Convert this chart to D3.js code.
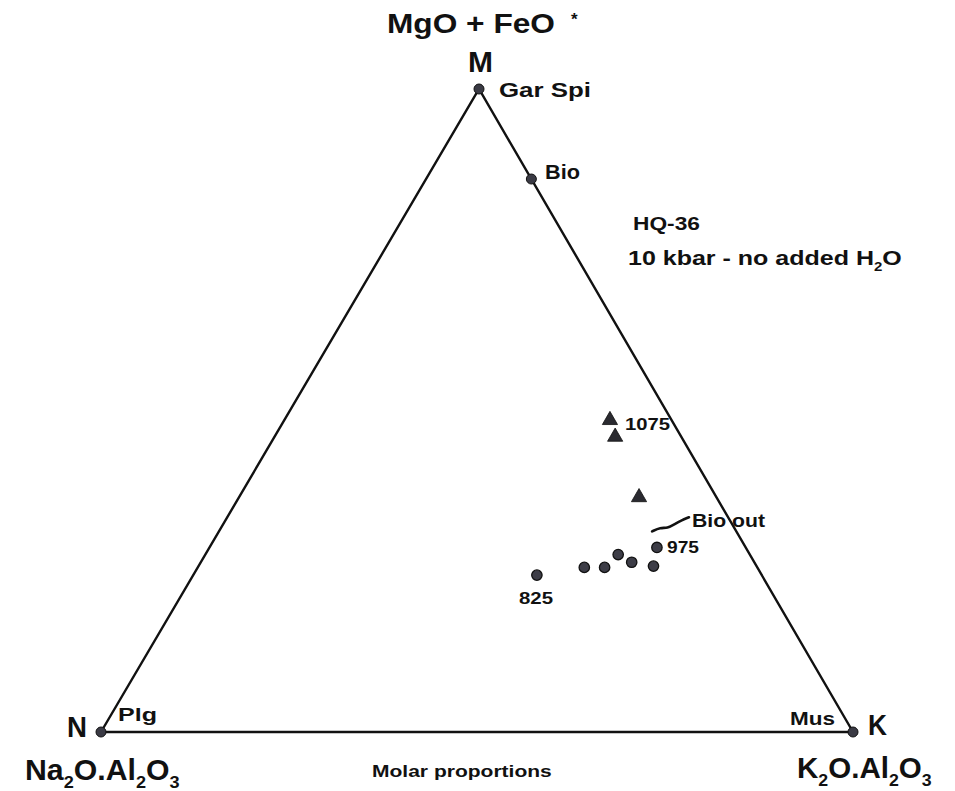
<!DOCTYPE html>
<html><head><meta charset="utf-8">
<script src="https://cdn.jsdelivr.net/npm/d3@7"></script>
<style>html,body{margin:0;padding:0;background:#fff}svg{display:block}text{font-family:"Liberation Sans",Arial,sans-serif;font-weight:bold;fill:#111}</style>
</head><body>
<script>
// Ternary fractions: m = MgO+FeO*, k = K2O.Al2O3, n = 1 - m - k (Na2O.Al2O3)
const phaseNames = ["Gar Spi", "Bio", "Plg", "Mus"];
const phaseM = [1.0, 0.86, 0.0, 0.0];
const phaseK = [0.0, 0.14, 0.0, 1.0];
// melt compositions (circles), 825 ... 975 °C
const meltM = [0.244, 0.256, 0.256, 0.276, 0.264, 0.258, 0.287];
const meltK = [0.457, 0.514, 0.541, 0.549, 0.573, 0.605, 0.595];
// triangles (higher temperature, biotite out), up to 1075
const hiM = [0.485, 0.459, 0.365];
const hiK = [0.433, 0.453, 0.532];
// "Bio out" squiggle path (ternary m,k)
const squigM = [0.312, 0.318, 0.317, 0.323, 0.329, 0.334];
const squigK = [0.576, 0.584, 0.594, 0.600, 0.606, 0.614];

const W = 955, H = 791;
const svg = d3.select("body").append("svg").attr("width", W).attr("height", H);

const yS = d3.scaleLinear().domain([0, 1]).range([732, 89]);
const xK = d3.scaleLinear().domain([0, 1]).range([101, 853]);
const xM = d3.scaleLinear().domain([0, 1]).range([0, 378]);
const proj = (m, k) => [xK(k) + xM(m), yS(m)];

// triangle frame
const frame = [proj(0, 0), proj(0, 1), proj(1, 0)];
svg.append("path").attr("d", d3.line()(frame) + "Z")
  .attr("fill", "none").attr("stroke", "#111").attr("stroke-width", 2.4).attr("stroke-linejoin", "miter");

// phase dots
phaseM.forEach((m, i) => {
  const [x, y] = proj(m, phaseK[i]);
  svg.append("circle").attr("cx", x).attr("cy", y).attr("r", 5)
    .attr("fill", "#3a3a44").attr("stroke", "#111").attr("stroke-width", 1);
});

// melt circles
meltM.forEach((m, i) => {
  const [x, y] = proj(m, meltK[i]);
  svg.append("circle").attr("cx", x).attr("cy", y).attr("r", 5.2)
    .attr("fill", "#3d3d47").attr("stroke", "#111").attr("stroke-width", 1.3);
});

// triangles
const tri = d3.symbol().type(d3.symbolTriangle).size(100);
hiM.forEach((m, i) => {
  const [x, y] = proj(m, hiK[i]);
  svg.append("path").attr("d", tri()).attr("transform", `translate(${x},${y})`)
    .attr("fill", "#2a2a30").attr("stroke", "#111").attr("stroke-width", 0.8);
});

// squiggle
svg.append("path")
  .attr("d", d3.line().curve(d3.curveBasis)(squigM.map((m, i) => proj(m, squigK[i]))))
  .attr("fill", "none").attr("stroke", "#111").attr("stroke-width", 2.6).attr("stroke-linecap", "round");

// labels: [segments, left x, baseline y, font size, target width]
const labels = [
  [[["MgO + FeO", 0]], 387, 33, 28, 168],
  [[["M", 0]], 468, 72, 29, 25],
  [[["Gar Spi", 0]], 499, 97, 20, 92],
  [[["Bio", 0]], 545, 179, 20, 35],
  [[["HQ-36", 0]], 633, 230, 19, 67],
  [[["10 kbar - no added H", 0], ["2", 1], ["O", -1]], 628, 265, 20, 274],
  [[["1075", 0]], 625, 430, 17, 45],
  [[["Bio out", 0]], 692, 527, 18, 73],
  [[["975", 0]], 667, 553, 17, 32],
  [[["825", 0]], 519, 604, 17, 34],
  [[["Plg", 0]], 118, 721, 18, 39],
  [[["Mus", 0]], 790, 725, 18, 45],
  [[["N", 0]], 67, 737, 29, 20],
  [[["K", 0]], 868, 735, 29, 19],
  [[["Na", 0], ["2", 1], ["O.Al", -1], ["2", 1], ["O", -1], ["3", 1]], 25, 780, 29, 155],
  [[["K", 0], ["2", 1], ["O.Al", -1], ["2", 1], ["O", -1], ["3", 1]], 797, 778, 29, 135],
  [[["Molar proportions", 0]], 372, 777, 16, 180]
];

labels.forEach(([segs, x, y, fs, w]) => {
  const t = svg.append("text").attr("font-size", fs);
  segs.forEach(([s, sub]) => {
    const ts = t.append("tspan").text(s);
    if (sub === 1) ts.attr("font-size", fs * 0.6).attr("dy", fs * 0.28);
    if (sub === -1) ts.attr("dy", -fs * 0.28);
  });
  const bw = t.node().getBBox().width;
  t.attr("transform", `translate(${x},${y}) scale(${w / bw},1)`);
});

// superscript asterisk after FeO
svg.append("text").attr("x", 571).attr("y", 25).attr("font-size", 17).text("*");
</script>
</body></html>
